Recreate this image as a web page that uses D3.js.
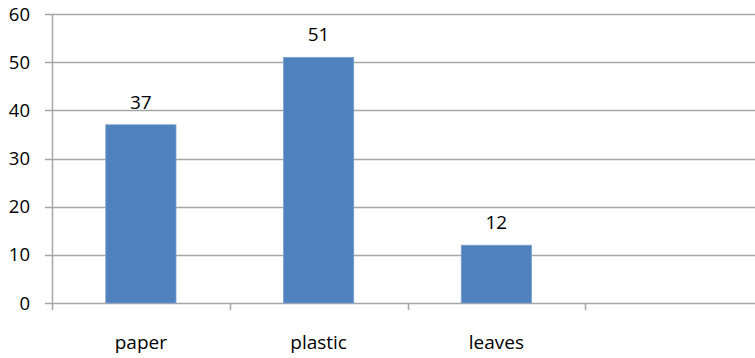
<!DOCTYPE html>
<html>
<head>
<meta charset="utf-8">
<script src="https://cdn.jsdelivr.net/npm/d3@7"></script>
<style>
  html, body { margin: 0; padding: 0; background: #fff; }
  svg text { font-family: "Open Sans", "Liberation Sans", sans-serif; fill: #000; }
</style>
</head>
<body>
<svg id="chart" width="755" height="358"></svg>
<script>
// Collected waste by type
const categories = ["paper", "plastic", "leaves", ""];
const values = [37, 51, 12, null];
const yTicks = [0, 10, 20, 30, 40, 50, 60];

const svg = d3.select("#chart");
const plotLeft = 52, plotRight = 763, plotTop = 14, plotBottom = 303;

const x = d3.scaleBand().domain(categories).range([plotLeft, plotRight]).padding(0);
const y = d3.scaleLinear().domain([0, 60]).range([plotBottom, plotTop]);
const barW = x.bandwidth() * 0.395;
const gridColor = "#a6a6a6";

// horizontal gridlines with short ticks left of the axis
svg.append("g").selectAll("line").data(yTicks).join("line")
  .attr("x1", plotLeft - 7).attr("x2", 755)
  .attr("y1", d => Math.round(y(d)) + 0.5).attr("y2", d => Math.round(y(d)) + 0.5)
  .attr("stroke", gridColor).attr("stroke-width", 1.5);

// vertical axis line
svg.append("line")
  .attr("x1", plotLeft + 0.5).attr("x2", plotLeft + 0.5)
  .attr("y1", y(60)).attr("y2", plotBottom + 7)
  .attr("stroke", gridColor).attr("stroke-width", 1.5);

// category boundary ticks
const bounds = categories.map(c => x(c) + x.bandwidth()).slice(0, -1);
svg.append("g").selectAll("line").data(bounds).join("line")
  .attr("x1", d => Math.round(d) + 0.5).attr("x2", d => Math.round(d) + 0.5)
  .attr("y1", plotBottom).attr("y2", plotBottom + 7)
  .attr("stroke", gridColor).attr("stroke-width", 1.5);

// y tick labels
svg.append("g").selectAll("text").data(yTicks).join("text")
  .attr("x", 30).attr("y", d => y(d))
  .attr("dy", "0.36em").attr("text-anchor", "end")
  .attr("font-size", 18.5).text(d => d);

// bars
const data = categories.map((c, i) => ({ c, v: values[i] })).filter(d => d.v != null);
svg.append("g").selectAll("rect").data(data).join("rect")
  .attr("x", d => x(d.c) + (x.bandwidth() - barW) / 2)
  .attr("width", barW)
  .attr("y", d => y(d.v))
  .attr("height", d => y(0) - y(d.v))
  .attr("fill", "#4f81bd")
  .attr("stroke", "#7ba0cf").attr("stroke-width", 0.8);

// value labels
svg.append("g").selectAll("text").data(data).join("text")
  .attr("x", d => x(d.c) + x.bandwidth() / 2)
  .attr("y", d => y(d.v) - 16)
  .attr("text-anchor", "middle").attr("font-size", 19)
  .text(d => d.v);

// category labels
svg.append("g").selectAll("text").data(categories).join("text")
  .attr("x", d => x(d) + x.bandwidth() / 2)
  .attr("y", 349)
  .attr("text-anchor", "middle").attr("font-size", 19)
  .text(d => d);
</script>
</body>
</html>
